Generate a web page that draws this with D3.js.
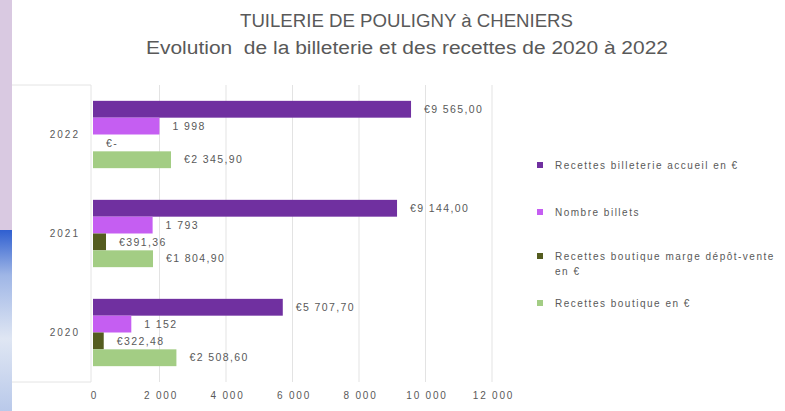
<!DOCTYPE html>
<html>
<head>
<meta charset="utf-8">
<script src="https://cdn.jsdelivr.net/npm/d3@7"></script>
<style>
  body { margin: 0; background: #fff; }
  svg { display: block; }
  text { font-family: "Liberation Sans", Arial, sans-serif; }
</style>
</head>
<body>
<svg id="chart" width="785" height="411"></svg>
<script>
// Data
var years = ["2022", "2021", "2020"];
var seriesNames = [
  "Recettes billeterie accueil en €",
  "Nombre billets",
  "Recettes boutique marge dépôt-vente en €",
  "Recettes boutique en €"
];
var recettesBilleterie = [9565.00, 9144.00, 5707.70];
var nombreBillets = [1998, 1793, 1152];
var margeDepotVente = [0, 391.36, 322.48];
var recettesBoutique = [2345.90, 1804.90, 2508.60];
var xTicks = [0, 2000, 4000, 6000, 8000, 10000, 12000];
var seriesColors = ["#7030a0", "#c55ef2", "#545c1f", "#a3cd84"];

// French number style: space thousands, comma decimal
var fr = d3.formatLocale({ decimal: ",", thousands: " ", grouping: [3], currency: ["€", ""] });
var fmtEuro = function(v) { return v === 0 ? "€-" : "€" + fr.format(",.2f")(v); };
var fmtInt = fr.format(",d");

var seriesValues = [recettesBilleterie, nombreBillets, margeDepotVente, recettesBoutique];
var seriesFmt = [fmtEuro, fmtInt, fmtEuro, fmtEuro];

var svg = d3.select("#chart");
var textColor = "#595959";

// Side decorations from the slide (purple band + sky strip)
var defs = svg.append("defs");
var sky = defs.append("linearGradient").attr("id", "sky")
  .attr("x1", 0).attr("y1", 0).attr("x2", 0).attr("y2", 1);
sky.append("stop").attr("offset", "0%").attr("stop-color", "#2f5fd0");
sky.append("stop").attr("offset", "25%").attr("stop-color", "#9fb6e6");
sky.append("stop").attr("offset", "60%").attr("stop-color", "#dfe6f3");
sky.append("stop").attr("offset", "100%").attr("stop-color", "#b9c9ea");
svg.append("rect").attr("x", 0).attr("y", 0).attr("width", 12).attr("height", 230).attr("fill", "#d9c9e1");
svg.append("rect").attr("x", 0).attr("y", 230).attr("width", 12).attr("height", 181).attr("fill", "url(#sky)");

// Titles (stretched to the width seen in the picture)
svg.append("text").attr("x", 240).attr("y", 27)
  .attr("font-size", 18).attr("fill", textColor)
  .attr("textLength", 333).attr("lengthAdjust", "spacingAndGlyphs")
  .text("TUILERIE DE POULIGNY à CHENIERS");
svg.append("text").attr("x", 146).attr("y", 54)
  .attr("font-size", 18).attr("fill", textColor).attr("xml:space", "preserve")
  .attr("textLength", 522).attr("lengthAdjust", "spacingAndGlyphs")
  .text("Evolution  de la billeterie et des recettes de 2020 à 2022");

// Scales
var plotTop = 85, plotBottom = 382;
var xScale = d3.scaleLinear().domain([0, 12000]).range([93, 492]);
var yScale = d3.scaleBand().domain(years).range([plotTop, plotBottom])
  .paddingInner(0.32).paddingOuter(0.16);
var sub = d3.scaleBand().domain(d3.range(seriesNames.length)).range([0, yScale.bandwidth()]);

// Category panel frame
svg.append("path")
  .attr("d", "M12," + plotTop + "H91V" + plotBottom + "H12")
  .attr("fill", "none").attr("stroke", "#e4e4e4").attr("stroke-width", 1);

// Gridlines
svg.append("g").selectAll("line").data(xTicks.slice(1)).enter().append("line")
  .attr("x1", function(d) { return xScale(d); }).attr("x2", function(d) { return xScale(d); })
  .attr("y1", plotTop).attr("y2", plotBottom)
  .attr("stroke", "#e3e3e3").attr("stroke-width", 1);

// X axis (labels only)
var xAxis = d3.axisBottom(xScale).tickValues(xTicks).tickSize(0).tickPadding(0)
  .tickFormat(function(d) { return fmtInt(d); });
var gx = svg.append("g").attr("transform", "translate(1," + 392 + ")").call(xAxis);
gx.select(".domain").remove();
gx.selectAll("text").attr("font-size", 10).attr("fill", textColor)
  .attr("letter-spacing", 1.8)
  .attr("font-family", "'Liberation Sans', Arial, sans-serif");

// Y axis (labels only)
var yAxis = d3.axisLeft(yScale).tickSize(0).tickPadding(0);
var gy = svg.append("g").attr("transform", "translate(80,0)").call(yAxis);
gy.select(".domain").remove();
gy.selectAll("text").attr("font-size", 10).attr("fill", textColor)
  .attr("letter-spacing", 2)
  .attr("font-family", "'Liberation Sans', Arial, sans-serif");

// Bars
var rows = [];
years.forEach(function(y, i) {
  seriesValues.forEach(function(vals, s) {
    rows.push({ year: y, s: s, value: vals[i] });
  });
});

var groups = svg.append("g").selectAll("g").data(rows).enter().append("g")
  .attr("transform", function(d) { return "translate(0," + (yScale(d.year) + sub(d.s)) + ")"; });
groups.append("rect")
  .attr("x", xScale(0))
  .attr("width", function(d) { return xScale(d.value) - xScale(0); })
  .attr("height", sub.bandwidth())
  .attr("fill", function(d) { return seriesColors[d.s]; });
groups.append("text")
  .attr("x", function(d) { return xScale(d.value) + 13; })
  .attr("y", sub.bandwidth() / 2)
  .attr("dy", "0.35em")
  .attr("font-size", 10.5).attr("fill", textColor)
  .attr("letter-spacing", 1.4)
  .text(function(d) { return seriesFmt[d.s](d.value); });

// Legend
var legendY = [165, 212, 256, 303];
var legend = svg.append("g").selectAll("g").data(seriesNames).enter().append("g")
  .attr("transform", function(d, i) { return "translate(540," + legendY[i] + ")"; });
legend.append("rect").attr("x", -3).attr("y", -3).attr("width", 6).attr("height", 6)
  .attr("fill", function(d, i) { return seriesColors[i]; });
legend.append("text").attr("x", 15).attr("dy", "0.35em")
  .attr("font-size", 10).attr("fill", textColor)
  .attr("letter-spacing", 1.5)
  .each(function(d) {
    var t = d3.select(this);
    var m = d.match(/^(.*dépôt-vente) (en €)$/);
    if (m) {
      t.append("tspan").attr("x", 15).text(m[1]);
      t.append("tspan").attr("x", 15).attr("dy", 15).text(m[2]);
    } else {
      t.text(d);
    }
  });
</script>
</body>
</html>
